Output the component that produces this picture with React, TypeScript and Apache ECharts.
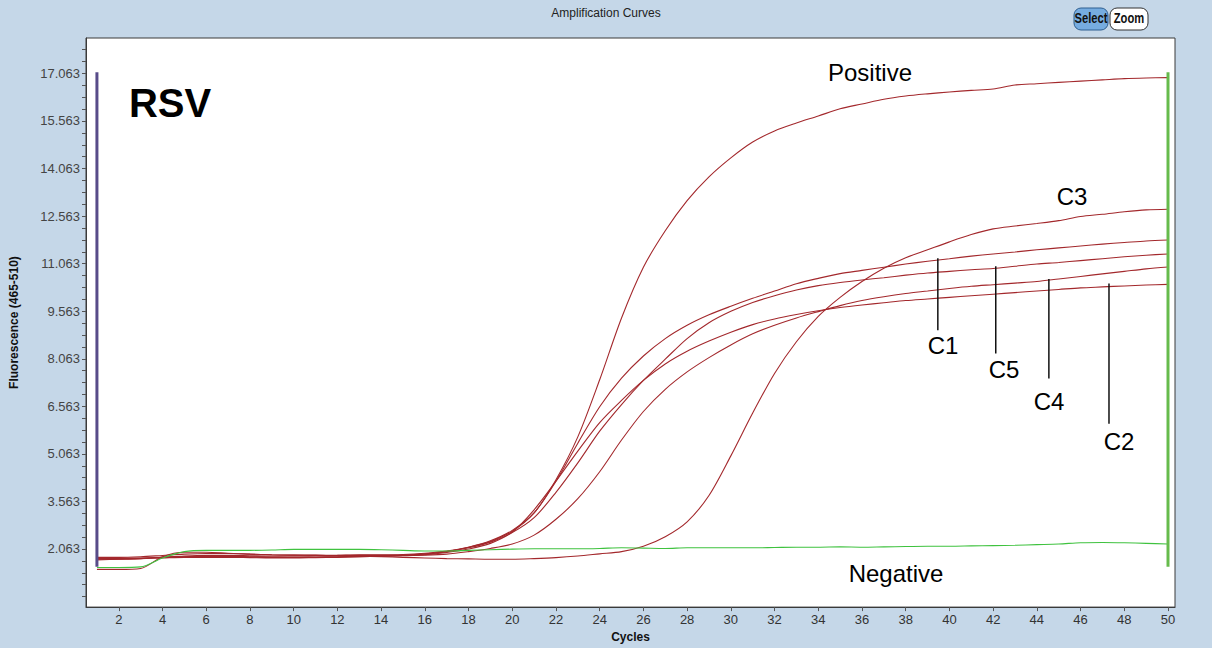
import { useEffect, useRef } from "react";
import * as echarts from "echarts";

const cycles = [
  1, 2, 3, 4, 5, 6, 7, 8, 9, 10, 11, 12, 13, 14, 15, 16, 17, 18, 19, 20, 21, 22, 23, 24, 25,
  26, 27, 28, 29, 30, 31, 32, 33, 34, 35, 36, 37, 38, 39, 40, 41, 42, 43, 44, 45, 46, 47, 48, 49, 50,
];

const positive = [
  1.72, 1.74, 1.76, 1.8, 1.84, 1.86, 1.86, 1.85, 1.84, 1.84, 1.85, 1.86, 1.88, 1.88, 1.89, 1.93, 2.0,
  2.12, 2.3, 2.62, 3.2, 4.25, 5.6, 7.4, 9.35, 10.95, 12.1, 13.05, 13.8, 14.4, 14.9, 15.25, 15.5,
  15.72, 15.95, 16.1, 16.25, 16.35, 16.42, 16.48, 16.53, 16.57, 16.7, 16.74, 16.78, 16.82, 16.86,
  16.9, 16.92, 16.93,
];

const c1 = [
  1.74, 1.74, 1.76, 1.78, 1.8, 1.8, 1.8, 1.79, 1.78, 1.78, 1.79, 1.8, 1.82, 1.84, 1.86, 1.9, 1.98,
  2.12, 2.32, 2.65, 3.2, 4.2, 5.4, 6.55, 7.45, 8.15, 8.7, 9.12, 9.45, 9.72, 9.97, 10.2, 10.43, 10.6,
  10.75, 10.85, 10.95, 11.05, 11.14, 11.22, 11.3, 11.37, 11.43, 11.5, 11.56, 11.62, 11.68, 11.73,
  11.78, 11.81,
];

const c5 = [
  1.76, 1.76, 1.77, 1.8, 1.82, 1.83, 1.83, 1.82, 1.81, 1.8, 1.81, 1.82, 1.83, 1.85, 1.87, 1.91, 1.98,
  2.1, 2.28, 2.58, 3.05, 3.85, 4.78, 5.78, 6.62, 7.38, 8.05, 8.7, 9.2, 9.56, 9.84, 10.05, 10.23,
  10.37, 10.47, 10.55, 10.62, 10.7, 10.77, 10.82, 10.87, 10.91, 10.98, 11.05, 11.1, 11.16, 11.22,
  11.28, 11.33, 11.37,
];

const c4 = [
  1.8, 1.8, 1.82, 1.86, 1.9, 1.92, 1.92, 1.9, 1.88, 1.87, 1.87, 1.86, 1.86, 1.86, 1.86, 1.87, 1.9,
  1.98, 2.08, 2.22, 2.5, 3.0, 3.65, 4.5, 5.5, 6.4, 7.1, 7.65, 8.1, 8.5, 8.85, 9.12, 9.35, 9.55, 9.74,
  9.9, 10.02, 10.12, 10.2, 10.28, 10.35, 10.4, 10.45, 10.5, 10.58, 10.66, 10.74, 10.82, 10.9, 10.96,
];

const c2 = [
  1.78, 1.78, 1.78, 1.8, 1.82, 1.83, 1.82, 1.81, 1.8, 1.8, 1.8, 1.81, 1.82, 1.83, 1.85, 1.88, 1.95,
  2.06, 2.24, 2.6, 3.3, 4.2, 5.15, 6.05, 6.75, 7.38, 7.9, 8.3, 8.62, 8.9, 9.14, 9.32, 9.46, 9.58, 9.68,
  9.76, 9.83, 9.9, 9.95, 10.0, 10.05, 10.1, 10.15, 10.2, 10.25, 10.3, 10.33, 10.36, 10.39, 10.41,
];

const c3 = [
  1.42, 1.42, 1.45, 1.82, 1.96, 1.96, 1.93, 1.9, 1.88, 1.87, 1.86, 1.85, 1.84, 1.82, 1.8, 1.78, 1.76,
  1.75, 1.74, 1.74, 1.76, 1.79, 1.84, 1.91, 1.98, 2.15, 2.45, 2.92, 3.75, 5.0, 6.35, 7.6, 8.6, 9.4,
  10.0, 10.5, 10.92, 11.25, 11.5, 11.75, 11.98, 12.16, 12.25, 12.33, 12.42, 12.55, 12.62, 12.7,
  12.76, 12.78,
];

const negative = [
  1.48, 1.48, 1.5, 1.78, 1.98, 2.02, 2.02, 2.02, 2.03, 2.05, 2.05, 2.05, 2.05, 2.04, 2.02, 2.0, 2.0,
  2.02, 2.04, 2.06, 2.07, 2.07, 2.07, 2.08, 2.1, 2.09, 2.08, 2.1, 2.1, 2.1, 2.1, 2.11, 2.12, 2.12,
  2.13, 2.12, 2.13, 2.14, 2.15, 2.15, 2.16, 2.17, 2.18, 2.2, 2.22, 2.26, 2.27, 2.26, 2.24, 2.22,
];

const xTickLabels = [2, 4, 6, 8, 10, 12, 14, 16, 18, 20, 22, 24, 26, 28, 30, 32, 34, 36, 38, 40, 42, 44, 46, 48, 50];
const yTickLabels = [2.063, 3.563, 5.063, 6.563, 8.063, 9.563, 11.063, 12.563, 14.063, 15.563, 17.063];

// leader lines: [cycle, top value, bottom value]
const leaderC1 = [39.47, 11.23, 8.96];
const leaderC5 = [42.12, 10.98, 8.23];
const leaderC4 = [44.55, 10.58, 7.44];
const leaderC2 = [47.3, 10.44, 6.01];

const markerStart = [1, 17.1, 1.5];
const markerEnd = [50, 17.1, 1.5];

const FONT = "'Liberation Sans', Arial, sans-serif";

export default function App() {
  const ref = useRef<HTMLDivElement>(null);

  useEffect(() => {
    if (!ref.current) return;
    const chart = echarts.init(ref.current, undefined, { renderer: "svg" });

    const zip = (vals: number[]) => cycles.map((c, i) => [c, vals[i]]);
    const yMinor: number[] = [];
    for (let v = yTickLabels[0] - 0.375 * 5; v < 18.1; v += 0.375) {
      if (v > 0.25) yMinor.push(Math.round(v * 1000) / 1000);
    }

    const curve = (name: string, vals: number[], color: string) => ({
      name,
      type: "line",
      data: zip(vals),
      showSymbol: false,
      symbol: "none",
      silent: true,
      smooth: 0.3,
      lineStyle: { width: 1.1, color },
      z: 3,
    });

    const vline = (name: string, l: number[], color: string, width: number) => ({
      name,
      type: "line",
      data: [
        [l[0], l[1]],
        [l[0], l[2]],
      ],
      showSymbol: false,
      symbol: "none",
      silent: true,
      lineStyle: { width, color },
      z: 4,
    });

    const red = "#a3282c";

    const txt = (
      text: string,
      x: number,
      y: number,
      size: number,
      weight = "normal",
      scaleX = 1,
      fill = "#000"
    ) => ({
      type: "text",
      x,
      y,
      scaleX,
      style: {
        text,
        fill,
        font: `${weight} ${size}px ${FONT}`,
        align: "center",
        verticalAlign: "middle",
      },
      z: 10,
    });

    chart.setOption({
      animation: false,
      backgroundColor: "#c5d7e8",
      grid: {
        left: 81,
        top: 38,
        width: 1094,
        height: 578,
        show: true,
        backgroundColor: "#ffffff",
        borderColor: "#3a3a3a",
        borderWidth: 1,
      },
      xAxis: {
        type: "value",
        min: 0.5,
        max: 50.32,
        name: "Cycles",
        nameLocation: "middle",
        nameGap: 21,
        nameTextStyle: { fontFamily: FONT, fontWeight: "bold", fontSize: 12, color: "#111" },
        axisLine: { show: true, lineStyle: { color: "#3a3a3a" } },
        axisTick: { show: true, customValues: xTickLabels, length: 4, lineStyle: { color: "#555" } },
        axisLabel: { customValues: xTickLabels, fontFamily: FONT, fontSize: 13, color: "#333", margin: 6 },
        splitLine: { show: false },
      },
      yAxis: {
        type: "value",
        min: 0.23,
        max: 18.181,
        name: "Fluorescence (465-510)",
        nameLocation: "middle",
        nameGap: 66,
        nameTextStyle: { fontFamily: FONT, fontWeight: "bold", fontSize: 12, color: "#111" },
        axisLine: { show: true, lineStyle: { color: "#3a3a3a" } },
        axisTick: { show: true, customValues: yMinor, length: 4, lineStyle: { color: "#555" } },
        axisLabel: {
          customValues: yTickLabels,
          fontFamily: FONT,
          fontSize: 13,
          color: "#444",
          margin: 6,
          formatter: (v: number) => v.toFixed(3),
        },
        splitLine: { show: false },
      },
      graphic: [
        txt("Amplification Curves", 606, 13, 12, "normal", 1, "#222"),
        {
          type: "rect",
          shape: { x: 1074, y: 8, width: 34, height: 22, r: 7 },
          style: { fill: "#76ace0", stroke: "#2f5f90", lineWidth: 1 },
          z: 10,
        },
        txt("Select", 1091, 19, 14, "bold", 0.8, "#111"),
        {
          type: "rect",
          shape: { x: 1110, y: 8, width: 38, height: 22, r: 7 },
          style: { fill: "#ffffff", stroke: "#333333", lineWidth: 1 },
          z: 10,
        },
        txt("Zoom", 1129, 19, 14, "bold", 0.8, "#111"),
        txt("RSV", 170, 103, 40, "bold"),
        txt("Positive", 870, 72, 24),
        txt("C3", 1072, 196, 24),
        txt("C1", 943, 345, 24),
        txt("C5", 1004, 369, 24),
        txt("C4", 1049, 401, 24),
        txt("C2", 1119, 441, 24),
        txt("Negative", 896, 573, 24),
      ],
      series: [
        curve("Positive", positive, red),
        curve("C1", c1, red),
        curve("C5", c5, red),
        curve("C4", c4, red),
        curve("C2", c2, red),
        curve("C3", c3, red),
        curve("Negative", negative, "#3fc23f"),
        vline("start", markerStart, "#584c89", 3),
        vline("end", markerEnd, "#66bb4c", 3),
        vline("leaderC1", leaderC1, "#111", 1.5),
        vline("leaderC5", leaderC5, "#111", 1.5),
        vline("leaderC4", leaderC4, "#111", 1.5),
        vline("leaderC2", leaderC2, "#111", 1.5),
      ],
    });

    return () => chart.dispose();
  }, []);

  return (
    <div
      ref={ref}
      style={{ position: "absolute", left: 0, top: 0, width: 1212, height: 648 }}
    />
  );
}
